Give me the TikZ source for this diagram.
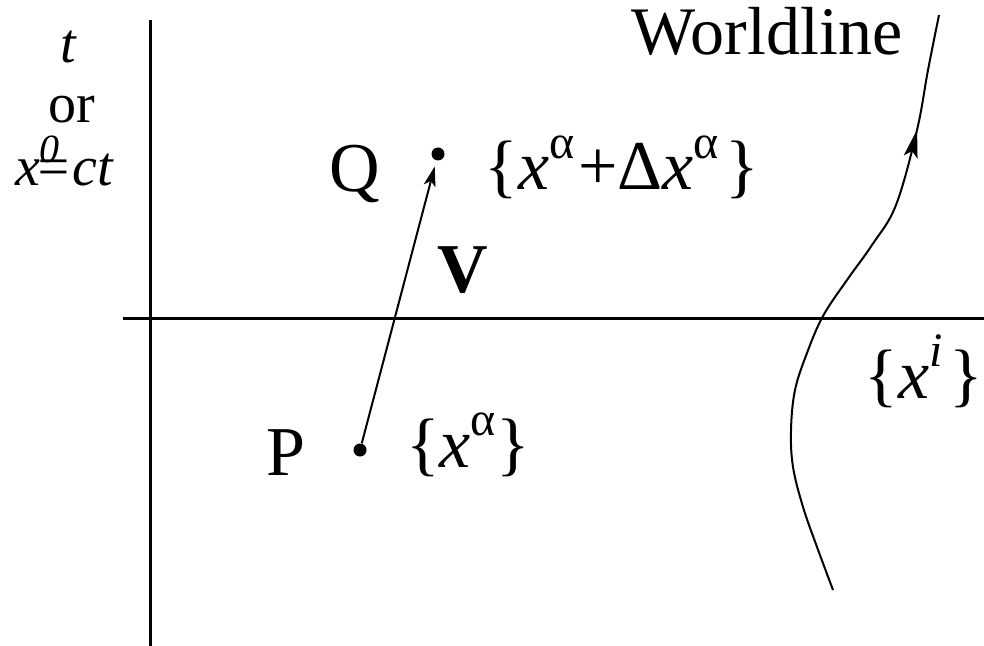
\documentclass[tikz,border=0pt]{standalone}
\usepackage{fontspec}
\setmainfont{Liberation Serif}
\usetikzlibrary{arrows.meta,decorations.markings}
\newcommand\supx[1]{\raisebox{0.45em}{\fontsize{24}{24}\selectfont #1}}
\newcommand\supy[1]{\raisebox{0.42em}{\fontsize{20}{20}\selectfont #1}}
\begin{document}
\begin{tikzpicture}[x=0.5pt,y=-0.5pt,
  axisline/.style={line width=1.5pt},
  thinline/.style={line width=1pt},
  big/.style={font=\fontsize{35}{40}\selectfont, inner sep=0pt, anchor=base},
  side/.style={font=\fontsize{28}{33}\selectfont, inner sep=0pt, anchor=base},
  dot/.style={circle, fill, inner sep=0pt, minimum size=6.5pt},
  vec/.style={thinline, -{Stealth[length=10pt,width=6pt,inset=2.5pt]}, shorten >=3pt},
  wl/.style={thinline, postaction={decorate},
    decoration={markings, mark=at position 0.81 with {\arrow{Stealth[length=14pt,width=7pt,inset=3pt]}}}}]
\useasboundingbox (0,0) rectangle (984,646);
% axes
\coordinate (vtop) at (150,20);
\coordinate (vbot) at (150,646);
\coordinate (hleft) at (123,319);
\coordinate (hright) at (984,319);
\draw[axisline] (vtop) -- (vbot);
\draw[axisline] (hleft) -- (hright);
% axis labels
\node[side] (t) at (68,63) {\itshape t};
\node[side] (or) at (72,123) {or};
\node[side] (x0) at (64,186) {\itshape x\/\supy{0}\hspace{-0.45em}=ct};
% events
\node[dot] (P) at (360,450) {};
\node[dot] (Q) at (438,154) {};
\draw[vec] (P) -- (Q);
\node[big] (Plab) at (286,475) {P};
\node[big] (Qlab) at (355,192) {Q};
\node[big] (Vlab) at (463,293) {\bfseries V};
\node[big] (Pco) at (468,467) {\{\textit{x}\supx{α}\}};
\node[big] (Qco) at (622,190) {\{\textit{x}\supx{α}\hspace{0.05em}+Δ\textit{x}\supx{α}\hspace{0.1em}\}};
\node[big] (xi) at (924,398) {\{\textit{x}\supx{\itshape i}\hspace{0.1em}\}};
% worldline
\node[big, font=\fontsize{34}{40}\selectfont] (wlab) at (767,55) {Worldline};
\draw[wl] plot[smooth, tension=0.6] coordinates {(833,590) (817,547) (803,507) (793,467) (791,430) (795,390) (807,353) (823,316) (847,280) (872,245) (896,205) (917,130) (928,70) (939,15)};
\end{tikzpicture}
\end{document}
